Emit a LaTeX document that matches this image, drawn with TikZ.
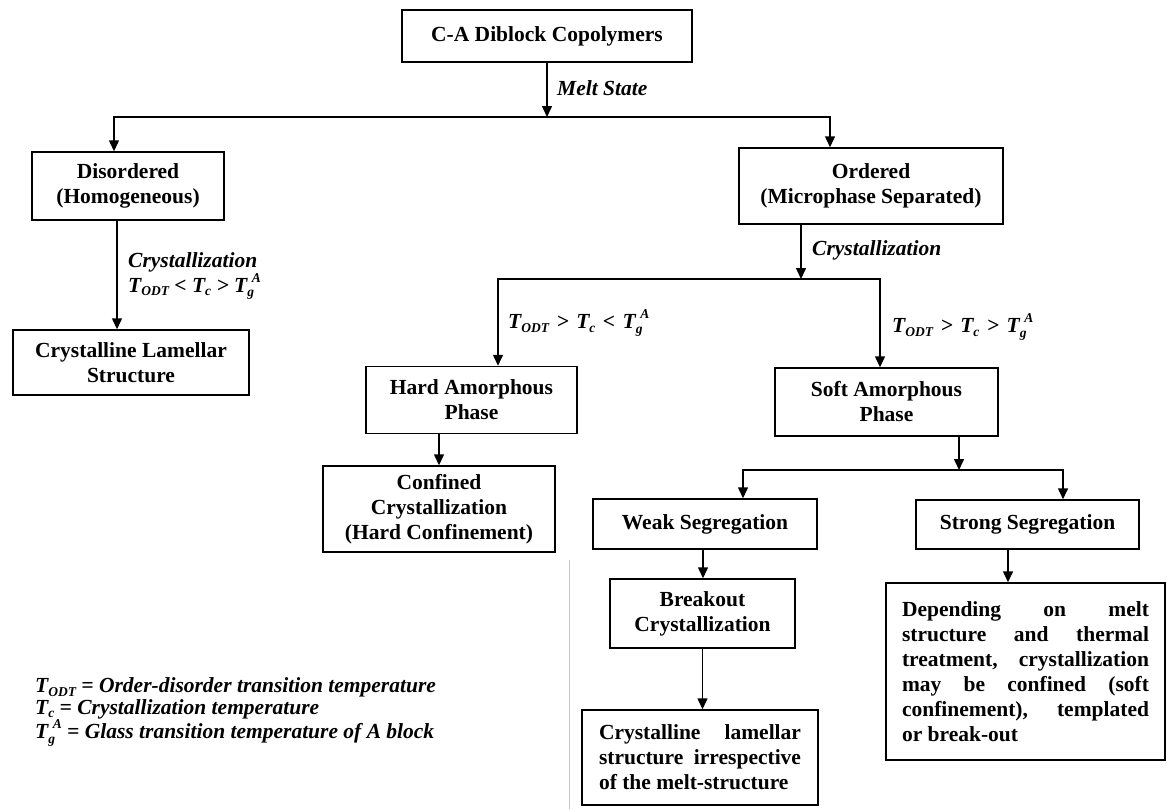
\documentclass[tikz,border=0pt]{standalone}
\usepackage{fontspec}
\setmainfont{Liberation Serif}
\usetikzlibrary{arrows.meta}
\newcommand{\smallit}[1]{{\fontsize{13.5}{13.5}\selectfont\itshape #1}}
\newcommand{\Tsub}[1]{\textit{T}\raisebox{-0.35ex}{\smallit{#1}}}
\newcommand{\TgA}{\textit{T}\rlap{\raisebox{-0.45ex}{\smallit{g}}}\raisebox{1.0ex}{\smallit{\,\,A}}}
\newcommand{\rel}[1]{\hspace{7.5pt}#1\hspace{7.5pt}}
\tikzset{
  box/.style={draw, line width=1.5pt, align=center, inner sep=0pt,
    font=\fontsize{21.5}{25}\selectfont\bfseries},
  arr/.style={line width=1.5pt, -{Triangle[length=11pt,width=10pt]}},
  lbl/.style={font=\fontsize{21.5}{22}\selectfont\bfseries\itshape, inner sep=0pt, anchor=west, align=left},
}
\begin{document}
\begin{tikzpicture}[x=1pt,y=-1pt]
\useasboundingbox (0,0) rectangle (1167,809);
% nodes
\node[box, minimum width=290pt, minimum height=52pt] (top) at (547,36) {C-A Diblock Copolymers};
\node[box, minimum width=192pt, minimum height=68pt] (dis) at (128,186) {Disordered\\(Homogeneous)};
\node[box, minimum width=236pt, minimum height=65pt] (cls) at (131,362.5) {Crystalline Lamellar\\Structure};
\node[box, minimum width=264pt, minimum height=76pt] (ord) at (871,186) {Ordered\\(Microphase Separated)};
\node[box, minimum width=211pt, minimum height=67pt] (hard) at (471.5,400) {Hard Amorphous\\Phase};
\node[box, minimum width=232pt, minimum height=86pt] (conf) at (439,509) {Confined\\Crystallization\\(Hard Confinement)};
\node[box, minimum width=223pt, minimum height=68pt] (soft) at (886.5,402) {Soft Amorphous\\Phase};
\node[box, minimum width=224pt, minimum height=50pt] (weak) at (705,524) {Weak Segregation};
\node[box, minimum width=223pt, minimum height=49pt] (strong) at (1027.5,524.5) {Strong Segregation};
\node[box, minimum width=185pt, minimum height=69pt] (brk) at (702.5,613.5) {Breakout\\Crystallization};
\node[box, minimum width=236pt, minimum height=95pt, align=left] (fin) at (700,757.5)
  {\makebox[202pt][s]{Crystalline lamellar}\\\makebox[202pt][s]{structure irrespective}\\of the melt-structure};
\node[box, minimum width=279pt, minimum height=177pt, align=left] (dep) at (1025.5,671.5)
  {\makebox[247pt][s]{Depending on melt}\\\makebox[247pt][s]{structure and thermal}\\\makebox[247pt][s]{treatment, crystallization}\\\makebox[247pt][s]{may be confined (soft}\\\makebox[247pt][s]{confinement), templated}\\or break-out\hspace*{124pt}};
% junctions
\coordinate (j1) at (547,117);
\coordinate (j2) at (801,279);
\coordinate (j3) at (959,470);
% connectors
\draw[arr] (top.south) -- (j1);
\draw[arr] (j1) -| ([xshift=-14pt]dis.north);
\draw[arr] (j1) -| ([xshift=-41pt]ord.north);
\coordinate (dx) at ([xshift=-11pt]dis.south);
\draw[arr] (dx) -- (dx |- cls.north);
\draw[arr] ([xshift=-70pt]ord.south) -- (j2);
\draw[arr] (j2) -| ([xshift=26.5pt]hard.north);
\draw[arr] (j2) -| ([xshift=-6.5pt]soft.north);
\coordinate (hx) at ([xshift=-32.5pt]hard.south);
\draw[arr] (hx) -- (hx |- conf.north);
\draw[arr] ([xshift=72.5pt]soft.south) -- (j3);
\draw[arr] (j3) -| ([xshift=38pt]weak.north);
\draw[arr] (j3) -| ([xshift=35.5pt]strong.north);
\coordinate (wx) at ([xshift=-2pt]weak.south);
\draw[arr] (wx) -- (wx |- brk.north);
\draw[arr] (brk.south) -- (brk.south |- fin.north);
\coordinate (sx) at ([xshift=-19.5pt]strong.south);
\draw[arr] (sx) -- (sx |- dep.north);
% labels
\node[lbl] (lmelt) at (557,88) {Melt State};
\node[lbl] (lcr1) at (128,276) {Crystallization\\\Tsub{ODT} < \textit{T}\raisebox{-0.35ex}{\smallit{c}} > \TgA};
\node[lbl] (lcr2) at (812,250) {Crystallization};
\node[lbl] (lhard) at (508,323) {\Tsub{ODT}\rel{>}\textit{T}\raisebox{-0.35ex}{\smallit{c}}\rel{<}\TgA};
\node[lbl] (lsoft) at (892,327) {\Tsub{ODT}\rel{>}\textit{T}\raisebox{-0.35ex}{\smallit{c}}\rel{>}\TgA};
\node[lbl, font=\fontsize{21.5}{21.5}\selectfont\bfseries\itshape] (legend) at (35,712)
  {\Tsub{ODT} = Order-disorder transition temperature\\\textit{T}\raisebox{-0.35ex}{\smallit{c}} = Crystallization temperature\\\TgA{} = Glass transition temperature of A block};
% scan artefact line
\draw[gray!45, line width=0.8pt] (569,560) -- (569,809);
\end{tikzpicture}
\end{document}
